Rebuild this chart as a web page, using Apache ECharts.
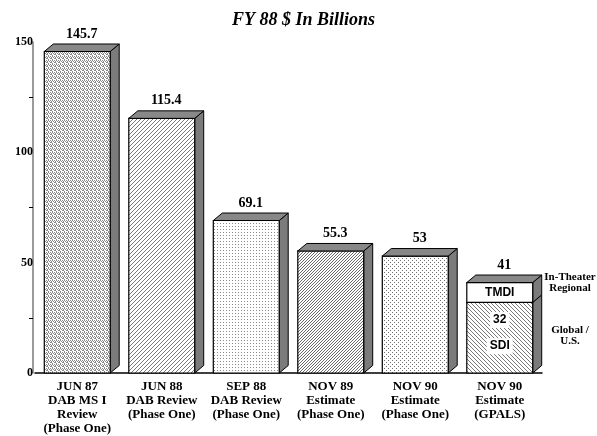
<!DOCTYPE html>
<html>
<head>
<meta charset="utf-8">
<script src="https://cdn.jsdelivr.net/npm/echarts@6/dist/echarts.min.js"></script>
<style>
  html, body { margin: 0; padding: 0; background: #fff; }
  #chart { width: 597px; height: 436px; }
</style>
</head>
<body>
<div id="chart"></div>
<script>
const categories = [
  'JUN 87\nDAB MS I\nReview\n(Phase One)',
  'JUN 88\nDAB Review\n(Phase One)',
  'SEP 88\nDAB Review\n(Phase One)',
  'NOV 89\nEstimate\n(Phase One)',
  'NOV 90\nEstimate\n(Phase One)',
  'NOV 90\nEstimate\n(GPALS)'
]
// lower segment (whole bar, or SDI for the last one)
const baseValues = [145.7, 115.4, 69.1, 55.3, 53, 32]
// upper segment (TMDI, only on the last bar)
const tmdiValues = [0, 0, 0, 0, 0, 9]
const totalLabels = ['145.7', '115.4', '69.1', '55.3', '53', '41']
const yTicks = [0, 50, 100, 150]

const serif = '"Liberation Serif", "DejaVu Serif", serif'
const sans = '"Liberation Sans", Arial, sans-serif'

// little pixel patterns like the old print fills
const pattern = (size, pixels, color) => {
  const c = document.createElement('canvas')
  c.width = c.height = size
  const ctx = c.getContext('2d')
  ctx.fillStyle = '#fff'
  ctx.fillRect(0, 0, size, size)
  ctx.fillStyle = color
  pixels.forEach(p => ctx.fillRect(p[0], p[1], 1, 1))
  return { image: c, repeat: 'repeat' }
}
const fills = [
  pattern(4, [[0, 0], [2, 0], [1, 1], [3, 2], [0, 3], [2, 2], [3, 1]], '#8a8a8a'),
  pattern(4, [[3, 0], [2, 1], [1, 2], [0, 3]], '#7a7a7a'),
  pattern(3, [[1, 1]], '#8a8a8a'),
  pattern(3, [[2, 0], [1, 1], [0, 2]], '#6a6a6a'),
  pattern(4, [[0, 0], [2, 2]], '#6f6f6f'),
  pattern(4, [[0, 0], [1, 1], [2, 2], [3, 3]], '#7a7a7a')
]

const DX = 9, DY = 7.5
const topGray = '#888888', sideGray = '#7b7b7b'

const renderItem = (params, api) => {
  const i = api.value(0)
  const base = api.value(1)
  const extra = api.value(2)
  const p0 = api.coord([i, 0])
  const pb = api.coord([i, base])
  const pt = api.coord([i, base + extra])
  const w = api.size([1, 0])[0] * 0.78
  const x0 = p0[0] - w / 2
  const x1 = x0 + w
  const line = { stroke: '#000', lineWidth: 1 }
  const kids = []
  kids.push({ type: 'polygon', shape: { points: [[x1, p0[1]], [x1 + DX, p0[1] - DY], [x1 + DX, pb[1] - DY], [x1, pb[1]]] },
    style: Object.assign({ fill: sideGray }, line) })
  kids.push({ type: 'rect', shape: { x: x0, y: pb[1], width: w, height: p0[1] - pb[1] },
    style: Object.assign({ fill: fills[i] }, line, { lineWidth: 1.2 }) })
  if (extra > 0) {
    kids.push({ type: 'polygon', shape: { points: [[x1, pb[1]], [x1 + DX, pb[1] - DY], [x1 + DX, pt[1] - DY], [x1, pt[1]]] },
      style: Object.assign({ fill: sideGray }, line) })
    kids.push({ type: 'rect', shape: { x: x0, y: pt[1], width: w, height: pb[1] - pt[1] },
      style: Object.assign({ fill: '#fff' }, line, { lineWidth: 1.2 }) })
    kids.push({ type: 'text', style: { x: (x0 + x1) / 2, y: (pt[1] + pb[1]) / 2, text: 'TMDI',
      font: 'bold 12px ' + sans, fill: '#000', align: 'center', verticalAlign: 'middle' } })
    const h = p0[1] - pb[1]
    kids.push({ type: 'text', style: { x: (x0 + x1) / 2, y: pb[1] + h * 0.25, text: String(base),
      font: 'bold 12px ' + sans, fill: '#000', align: 'center', verticalAlign: 'middle',
      backgroundColor: '#fff', padding: [2, 3] } })
    kids.push({ type: 'text', style: { x: (x0 + x1) / 2, y: pb[1] + h * 0.62, text: 'SDI',
      font: 'bold 12px ' + sans, fill: '#000', align: 'center', verticalAlign: 'middle',
      backgroundColor: '#fff', padding: [2, 3] } })
  }
  kids.push({ type: 'polygon', shape: { points: [[x0, pt[1]], [x0 + DX, pt[1] - DY], [x1 + DX, pt[1] - DY], [x1, pt[1]]] },
    style: Object.assign({ fill: topGray }, line) })
  kids.push({ type: 'text', style: { x: (x0 + x1 + DX) / 2, y: pt[1] - DY - 3, text: totalLabels[i],
    font: 'bold 14px ' + serif, fill: '#000', align: 'center', verticalAlign: 'bottom' } })
  return { type: 'group', children: kids }
}

const chart = echarts.init(document.getElementById('chart'), null, { renderer: 'canvas' })
chart.setOption({
  animation: false,
  backgroundColor: '#fff',
  title: {
    text: 'FY 88 $ In Billions',
    left: 227, top: 6,
    textStyle: { fontFamily: serif, fontStyle: 'italic', fontWeight: 'bold', fontSize: 18, color: '#000' }
  },
  grid: { left: 35, right: 55, top: 42, bottom: 60, containLabel: false },
  xAxis: {
    type: 'category',
    data: categories,
    axisTick: { show: false },
    axisLine: { lineStyle: { color: '#000', width: 1.5 } },
    axisLabel: {
      interval: 0, margin: 7, color: '#000',
      fontFamily: serif, fontWeight: 'bold', fontSize: 13, lineHeight: 14
    },
    splitLine: { show: false }
  },
  yAxis: {
    type: 'value',
    min: yTicks[0], max: yTicks[yTicks.length - 1], interval: 50,
    offset: 2,
    axisLine: { show: true, lineStyle: { color: '#7a7a7a', width: 1.5 } },
    axisTick: { show: false },
    minorTick: { show: true, splitNumber: 2, length: 4, lineStyle: { color: '#000', width: 1 } },
    axisLabel: { margin: 0, color: '#000', fontFamily: serif, fontWeight: 'bold', fontSize: 12 },
    splitLine: { show: false },
    minorSplitLine: { show: false }
  },
  graphic: [
    { type: 'text', x: 570, y: 283,
      style: { text: 'In-Theater\nRegional', font: 'bold 11px ' + serif, lineHeight: 11, fill: '#000',
        align: 'center', verticalAlign: 'middle' } },
    { type: 'text', x: 570, y: 336,
      style: { text: 'Global /\nU.S.', font: 'bold 11px ' + serif, lineHeight: 11, fill: '#000',
        align: 'center', verticalAlign: 'middle' } }
  ],
  series: [{
    type: 'custom',
    renderItem: renderItem,
    clip: false,
    encode: { x: 0, y: [1, 2] },
    data: baseValues.map((v, i) => [i, v, tmdiValues[i]])
  }]
})
</script>
</body>
</html>
